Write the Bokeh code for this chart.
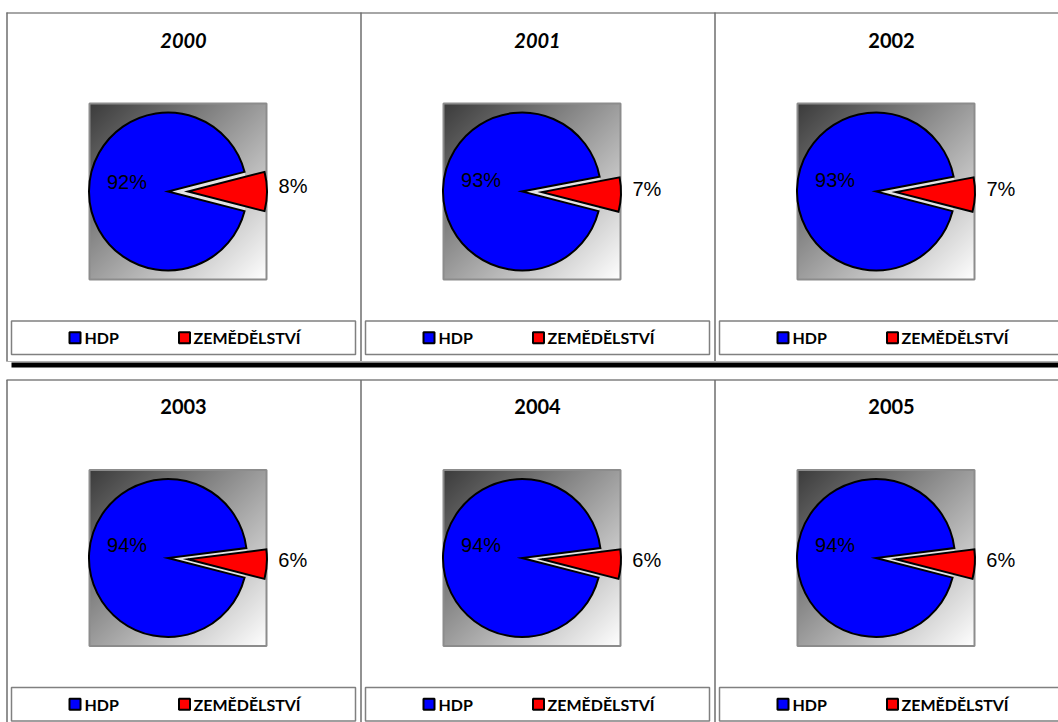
import numpy as np
from bokeh.plotting import figure
from bokeh.models import Range1d, ColumnDataSource
from bokeh.core.properties import value
from bokeh.embed import file_html
from bokeh.resources import INLINE

# ---------------- data ----------------
years = ["2000", "2001", "2002", "2003", "2004", "2005"]
hdp_share = [92, 93, 93, 94, 94, 94]          # % HDP
zem_share = [8, 7, 7, 6, 6, 6]                # % ZEMĚDĚLSTVÍ
series_names = ["HDP", "ZEMĚDĚLSTVÍ"]
series_colors = ["#0000FF", "#FF0000"]
title_italic = [True, True, False, False, False, False]

# ---------------- canvas ----------------
W, H = 1058, 722
X0, Y0 = 0, 0
PAGE_H = 722


def Y(py):
    return PAGE_H - py


p = figure(width=W, height=H, x_range=Range1d(X0, X0 + W),
           y_range=Range1d(PAGE_H - (Y0 + H), PAGE_H - Y0),
           output_backend="svg", toolbar_location=None, min_border=0)
p.axis.visible = False
p.grid.visible = False
p.outline_line_color = None
p.background_fill_color = "white"
p.border_fill_color = "white"

col_left = [6, 360, 714]
row_top = [12.5, 379.0]
R = 79
EXPLODE = 20
A0 = np.deg2rad(-14.4)

lefts, tops = [], []
for i in range(len(years)):
    lefts.append(col_left[i % 3])
    tops.append(row_top[i // 3])
lefts = np.array(lefts, dtype=float)
tops = np.array(tops, dtype=float)

# ---------------- gradient plot-area boxes ----------------
bw, bh = 177, 176
u = np.linspace(0, 1, bw)[None, :]
w = 1 - np.linspace(0, 1, bh)[:, None]     # row 0 is bottom
v = (u + w) / 2.0
g = (0x3c + (0xff - 0x3c) * v).astype(np.uint8)
img = np.empty((bh, bw), dtype=np.uint32)
view = img.view(dtype=np.uint8).reshape((bh, bw, 4))
view[:, :, 0] = g
view[:, :, 1] = g
view[:, :, 2] = g
view[:, :, 3] = 255

box_l = lefts + 83
box_t = tops + 90.5
p.image_rgba(image=[img] * len(years), x=list(box_l), y=list(Y(box_t + bh)), dw=bw, dh=bh)
p.rect(x=list(box_l + bw / 2), y=list(Y(box_t + bh / 2)), width=bw, height=bh,
       fill_color=None, line_color="#8c8c8c", line_width=2)

# ---------------- pies ----------------
z = np.array(zem_share, dtype=float) / 100.0
cx = lefts + 161.5
cy = Y(tops + 178.5)
zem_start = np.full(len(years), A0)
zem_end = A0 + 2 * np.pi * z
bis = (zem_start + zem_end) / 2
hdp_bis = bis + np.pi

src = ColumnDataSource(dict(
    cx=cx, cy=cy,
    zs=zem_start, ze=zem_end,
    rx=cx + EXPLODE * np.cos(bis), ry=cy + EXPLODE * np.sin(bis),
))

# gap fill (light) behind the exploded slice
p.wedge(x="cx", y="cy", radius=R, start_angle="zs", end_angle="ze", source=src,
        fill_color="#e4e4e4", line_color=None)
# HDP slice
p.wedge(x="cx", y="cy", radius=R, start_angle="ze", end_angle="zs", source=src,
        fill_color=series_colors[0], line_color="black", line_width=2, line_join="miter")
# ZEMĚDĚLSTVÍ slice (exploded)
p.wedge(x="rx", y="ry", radius=R, start_angle="zs", end_angle="ze", source=src,
        fill_color=series_colors[1], line_color="black", line_width=2, line_join="miter")

# data labels
in_lbl = [f"{h}%" for h in hdp_share]
out_lbl = [f"{zz}%" for zz in zem_share]
p.text(x=list(cx + 41 * np.cos(hdp_bis)), y=list(cy + 41 * np.sin(hdp_bis) + 10), text=in_lbl,
       text_font=value("Liberation Sans"), text_font_size="20px", text_color="#000000",
       text_align="center", text_baseline="middle")
p.text(x=list(cx + 125 * np.cos(bis)), y=list(cy + 125 * np.sin(bis) + 6), text=out_lbl,
       text_font=value("Liberation Sans"), text_font_size="20px", text_color="#000000",
       text_align="center", text_baseline="middle")

# ---------------- titles ----------------
for i, yr in enumerate(years):
    p.text(x=[lefts[i] + 177], y=[Y(tops[i] + 27)], text=[yr],
           text_font=value("Lato"), text_font_size="20px",
           text_font_style="bold italic" if title_italic[i] else "bold",
           text_color="black", text_align="center", text_baseline="middle")

# ---------------- legends ----------------
leg_top = tops + 308
leg_bot = tops + 341.5
leg_cy = (leg_top + leg_bot) / 2
p.quad(left=list(lefts + 5), right=list(lefts + 349), top=list(Y(leg_top)), bottom=list(Y(leg_bot)),
       fill_color="white", line_color="#808080", line_width=1.5)
sq_x = [68.5, 178]
tx_x = [78, 187]
for k in range(2):
    p.rect(x=list(lefts + sq_x[k]), y=list(Y(leg_cy)), width=11, height=11,
           fill_color=series_colors[k], line_color="black", line_width=2)
    p.text(x=list(lefts + tx_x[k]), y=list(Y(leg_cy)), text=[series_names[k]] * len(years),
           text_font=value("Lato"), text_font_size="16px", text_font_style="bold",
           text_color="black", text_align="left", text_baseline="middle")

# ---------------- frame lines ----------------
# top row
p.segment(x0=[6], y0=[Y(12.5)], x1=[1058], y1=[Y(12.5)], line_color="#a6a6a6", line_width=2)
p.segment(x0=[6.5, 360.5, 714.5], y0=[Y(12)] * 3, x1=[6.5, 360.5, 714.5], y1=[Y(361)] * 3,
          line_color="#6e6e6e", line_width=1.5)
p.segment(x0=[6], y0=[Y(361)], x1=[1058], y1=[Y(361)], line_color="#b0b0b0", line_width=1)
# thick black separator
p.quad(left=[11], right=[1058], top=[Y(362)], bottom=[Y(367)], fill_color="black", line_color=None)
# bottom row
p.segment(x0=[6], y0=[Y(379.5)], x1=[1058], y1=[Y(379.5)], line_color="#808080", line_width=1.5)
p.segment(x0=[6.5, 360.5, 714.5], y0=[Y(379.5)] * 3, x1=[6.5, 360.5, 714.5], y1=[Y(722)] * 3,
          line_color="#6e6e6e", line_width=1.5)

open("out.html", "w").write(file_html(p, INLINE))
